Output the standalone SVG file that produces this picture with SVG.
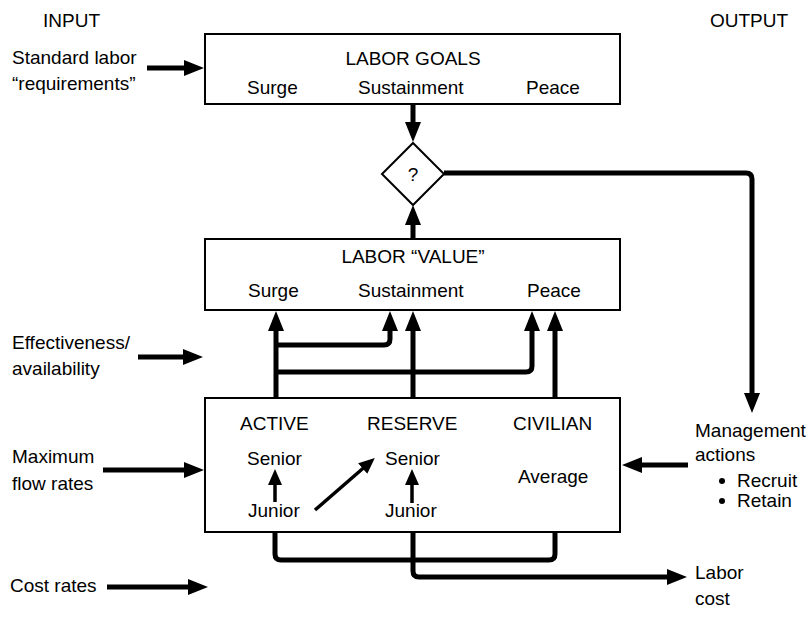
<svg xmlns="http://www.w3.org/2000/svg" width="810" height="618" viewBox="0 0 810 618">
<style>
text{font-family:"Liberation Sans",Arial,sans-serif;font-size:19px;fill:#000}
.box{fill:#fff;stroke:#000;stroke-width:2}
.c{fill:none;stroke:#000;stroke-width:5;stroke-linejoin:round}
.t{fill:none;stroke:#000;stroke-width:3.5}
.mid{text-anchor:middle}
</style>
<defs>
<marker id="ah" markerUnits="userSpaceOnUse" markerWidth="21" markerHeight="16" refX="8" refY="8" orient="auto">
<path d="M0,0 L20,8 L0,16 z" fill="#000"/>
</marker>
<marker id="ahs" markerUnits="userSpaceOnUse" markerWidth="18" markerHeight="14" refX="7" refY="7" orient="auto">
<path d="M0,0 L16,7 L0,14 z" fill="#000"/>
</marker>
</defs>

<g id="labels-io">
<text x="43" y="27">INPUT</text>
<text x="710" y="27">OUTPUT</text>
</g>

<g id="in-standard">
<text x="12" y="64">Standard labor</text>
<text x="12" y="90">“requirements”</text>
</g>
<g id="in-effectiveness">
<text x="12" y="349">Effectiveness/</text>
<text x="12" y="375">availability</text>
</g>
<g id="in-maximum">
<text x="12" y="463">Maximum</text>
<text x="12" y="490">flow rates</text>
</g>
<g id="in-cost">
<text x="10" y="592">Cost rates</text>
</g>

<g id="labor-goals">
<rect class="box" x="205" y="34" width="415" height="70"/>
<text class="mid" x="413" y="65">LABOR GOALS</text>
<text x="247" y="94">Surge</text>
<text x="358" y="94">Sustainment</text>
<text x="526" y="94">Peace</text>
</g>

<g id="decision">
<polygon class="box" points="413,143 444,174 413,205 382,174"/>
<text class="mid" x="413" y="181">?</text>
</g>

<g id="labor-value">
<rect class="box" x="205" y="239" width="415" height="71"/>
<text class="mid" x="413" y="263">LABOR “VALUE”</text>
<text x="248" y="297">Surge</text>
<text x="358" y="297">Sustainment</text>
<text x="527" y="297">Peace</text>
</g>

<g id="forces">
<rect class="box" x="205" y="398" width="415" height="134"/>
<text x="240" y="430">ACTIVE</text>
<text x="367" y="430">RESERVE</text>
<text x="513" y="430">CIVILIAN</text>
<text x="247" y="465">Senior</text>
<text x="385" y="465">Senior</text>
<text x="518" y="483">Average</text>
<text x="248" y="517">Junior</text>
<text x="385" y="517">Junior</text>
</g>

<g id="out-management">
<text x="695" y="437">Management</text>
<text x="695" y="461">actions</text>
<circle cx="722" cy="481" r="3"/>
<text x="737" y="487">Recruit</text>
<circle cx="722" cy="501" r="3"/>
<text x="737" y="507">Retain</text>
</g>
<g id="out-cost">
<text x="695" y="579">Labor</text>
<text x="695" y="605">cost</text>
</g>

<g id="connectors">
<line class="c" x1="147" y1="68" x2="192" y2="68" marker-end="url(#ah)"/>
<line class="c" x1="413" y1="105" x2="413" y2="130" marker-end="url(#ah)"/>
<line class="c" x1="413" y1="239" x2="413" y2="217" marker-end="url(#ah)"/>
<path class="c" d="M444,173 H746 Q752,173 752,179 V401" marker-end="url(#ah)"/>
<line class="c" x1="138" y1="357" x2="191" y2="357" marker-end="url(#ah)"/>
<line class="c" x1="103" y1="470" x2="192" y2="470" marker-end="url(#ah)"/>
<line class="c" x1="107" y1="587" x2="196" y2="587" marker-end="url(#ah)"/>
<line class="c" x1="688" y1="465" x2="634" y2="465" marker-end="url(#ah)"/>
<line class="c" x1="276" y1="398" x2="276" y2="323" marker-end="url(#ah)"/>
<path class="c" d="M276,345 H384 Q390,345 390,339 V323" marker-end="url(#ah)"/>
<path class="c" d="M276,372 H526 Q532,372 532,366 V323" marker-end="url(#ah)"/>
<line class="c" x1="413" y1="398" x2="413" y2="323" marker-end="url(#ah)"/>
<line class="c" x1="555" y1="398" x2="555" y2="323" marker-end="url(#ah)"/>
<line class="t" x1="275" y1="502" x2="275" y2="478" marker-end="url(#ahs)"/>
<line class="t" x1="412" y1="503" x2="412" y2="478" marker-end="url(#ahs)"/>
<line class="t" x1="315" y1="510" x2="368" y2="464" marker-end="url(#ahs)"/>
<path class="c" d="M275,532 V554 Q275,560 281,560 H549 Q555,560 555,554 V532"/>
<path class="c" d="M413,532 V571 Q413,577 419,577 H675" marker-end="url(#ah)"/>
</g>
</svg>
